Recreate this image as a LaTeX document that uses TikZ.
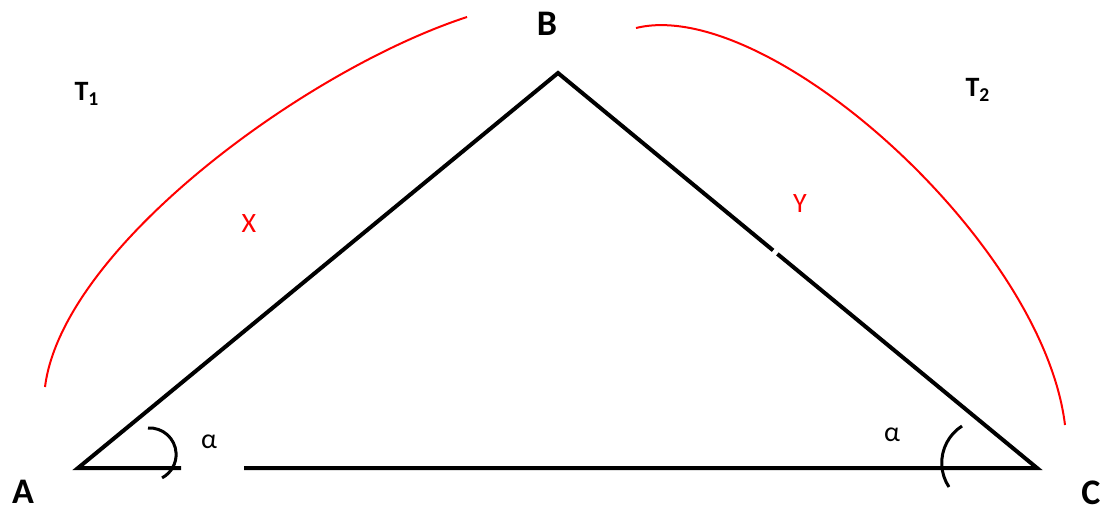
\documentclass[tikz,border=0pt]{standalone}
\usepackage{fontspec}
\setmainfont{Carlito}
\usepackage{tikz}
\usetikzlibrary{calc}
\usepackage{xcolor}
\definecolor{markred}{RGB}{255,0,0}

\begin{document}
\begin{tikzpicture}[x=0.5pt, y=-0.5pt,
    side/.style={line width=2pt},
    anglemark/.style={line width=1.5pt},
    span/.style={markred, line width=1pt},
    corner/.style={font=\fontsize{18}{20}\selectfont\bfseries},
    seglabel/.style={markred, font=\fontsize{14}{16}\selectfont}]
  \useasboundingbox (0,0) rectangle (1107,511);
  % vertices
  \coordinate (A) at (78,468);
  \coordinate (B) at (558,73);
  \coordinate (C) at (1037,468);
  % gaps in the sides
  \coordinate (baseL) at (181,468);
  \coordinate (baseR) at (244,468);
  \coordinate (bcU) at ($(B)!0.449!(C)$);
  \coordinate (bcL) at ($(B)!0.458!(C)$);
  % triangle
  \draw[side] (bcU) -- (B) -- (A) -- (baseL);
  \draw[side] (baseR) -- (C) -- (bcL);
  % angle marks
  \draw[anglemark] ([shift={(70,-40)}]A) arc[start angle=-93.5, end angle=62, radius=26.5];
  \draw[anglemark] ([shift={(-75,-42)}]C) arc[start angle=237.5, end angle=146.7, radius=43.8];
  % red spans
  \draw[span] (45,387) .. controls (62.4,248.1) and (305.5,69.7) .. (467,17);
  \draw[span] (636,28) .. controls (767,-4.4) and (1042.8,241.3) .. (1065,425);
  % labels
  \node[corner] (labA) at (23,492) {A};
  \node[corner] (labB) at (547,24) {B};
  \node[corner] (labC) at (1091,493) {C};
  \node[font=\fontsize{14}{16}\selectfont\bfseries] (t1) at (87,94) {T\textsubscript{1}};
  \node[font=\fontsize{14}{16}\selectfont\bfseries] (t2) at (978,90) {T\textsubscript{2}};
  \node[seglabel] (sx) at (249,224) {X};
  \node[seglabel] (sy) at (800,204) {Y};
  \node[font=\fontsize{14}{16}\selectfont] (alphaA) at (209,442) {α};
  \node[font=\fontsize{14}{16}\selectfont] (alphaC) at (892,435) {α};
\end{tikzpicture}
\end{document}
